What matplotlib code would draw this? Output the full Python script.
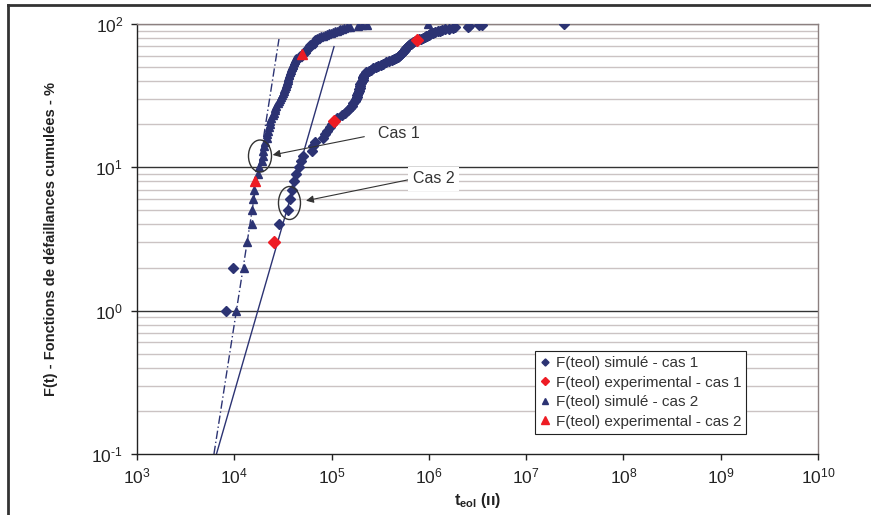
import matplotlib
matplotlib.use("Agg")
import matplotlib.pyplot as plt
from matplotlib.lines import Line2D
from matplotlib.patches import Ellipse
from matplotlib.ticker import LogLocator, NullFormatter, FuncFormatter
import math

plt.rcParams['font.family'] = ['Liberation Sans', 'DejaVu Sans']
plt.rcParams['mathtext.fontset'] = 'custom'
plt.rcParams['mathtext.rm'] = 'Liberation Sans'
plt.rcParams['mathtext.it'] = 'Liberation Sans:italic'
plt.rcParams['mathtext.bf'] = 'Liberation Sans:bold'
plt.rcParams['axes.unicode_minus'] = False

# ---- data ----------------------------------------------------------------
# cumulative failure levels (%)
levels = [1, 2, 3, 4, 5, 6, 7, 8, 9, 10,
          11, 12, 13, 14, 15, 16, 17, 18, 19, 20,
          21, 22, 23, 24, 25, 26, 27, 28, 29, 30,
          31, 32, 33, 34, 35, 36, 37, 38, 39, 40,
          41, 42, 43, 44, 45, 46, 47, 48, 49, 50,
          51, 52, 53, 54, 55, 56, 57, 58, 59, 60,
          61, 62, 63, 64, 65, 66, 67, 68, 69, 70,
          71, 72, 73, 74, 75, 76, 77, 78, 79, 80,
          81, 82, 83, 84, 85, 86, 87, 88, 89, 90,
          91, 92, 93, 94, 95, 96, 97, 98, 99, 100]

# simulated end-of-life times, case 1
teol_sim_cas1 = [8200, 9800, 25600, 29000, 35900, 37400, 38900, 41100, 42600, 46000,
                 48500, 50500, 62500, 64900, 67500, 82000, 85000, 89000, 96000, 101000,
                 107000, 115000, 127000, 138000, 148000, 155000, 161000, 167000, 174000, 178000,
                 181000, 184000, 187000, 190000, 192000, 194000, 196000, 198000, 202000, 205000,
                 208000, 210000, 212000, 217000, 222000, 228000, 240000, 255000, 268000, 285000,
                 302000, 320000, 340000, 365000, 390000, 415000, 440000, 460000, 480000, 498000,
                 510000, 520000, 530000, 542000, 553000, 563000, 572000, 582000, 592000, 608000,
                 625000, 640000, 657000, 675000, 692000, 720000, 750000, 790000, 830000, 870000,
                 905000, 935000, 965000, 995000, 1020000, 1050000, 1100000, 1160000, 1230000, 1300000,
                 1370000, 1480000, 1600000, 1750000, 1850000, 2500000, 2600000, 3300000, 3500000, 24600000]

# simulated end-of-life times, case 2
teol_sim_cas2 = [10400, 12600, 13500, 15100, 15200, 15500, 15800, 16300, 17400, 18100,
                 19100, 19500, 19700, 20400, 20900, 21500, 21800, 22200, 22700, 23100,
                 23300, 24100, 25000, 25600, 26000, 26200, 27100, 28100, 28800, 29500,
                 30200, 30900, 31700, 32400, 32800, 33200, 33800, 34200, 34800, 35000,
                 35400, 35600, 35900, 36300, 36600, 37100, 37600, 38300, 38600, 38900,
                 39400, 39800, 40300, 40800, 41200, 41700, 42000, 43000, 44700, 46300,
                 47900, 49300, 50200, 51400, 52600, 53300, 54200, 54800, 55500, 57200,
                 58600, 60000, 61400, 62900, 64400, 65100, 66700, 67500, 69200, 70800,
                 74200, 77800, 81600, 85500, 89700, 94000, 98600, 103000, 108000, 114000,
                 119000, 123000, 127000, 134000, 144000, 154000, 187000, 205000, 230000, 979000]

# experimental points
teol_exp_cas1 = [25600, 107000, 750000]
F_exp_cas1 = [3, 21, 77]
teol_exp_cas2 = [16300, 49300]
F_exp_cas2 = [8, 62]

# fitted laws (end points)
fit_cas1_t = [6560, 106000]
fit_cas1_F = [0.1, 69.5]
fit_cas2_t = [6180, 28800]
fit_cas2_F = [0.1, 78.6]

NAVY = '#2c3373'
RED = '#ee1c24'


def pow10_label(v, pos):
    e = int(round(math.log10(v)))
    if e < 0:
        return r'$10^{\text{-%d}}$' % (-e)
    return r'$10^{%d}$' % e


# ---- figure ----------------------------------------------------------------
fig = plt.figure(figsize=(8.71, 5.15), dpi=100)
ax = fig.add_axes([137 / 871, 1 - 454 / 515, 681 / 871, 430 / 515])

ax.set_xscale('log')
ax.set_yscale('log')
ax.set_xlim(1e3, 1e10)
ax.set_ylim(0.1, 100)

# horizontal grid
ax.yaxis.set_minor_locator(LogLocator(base=10, subs=[2, 3, 4, 5, 6, 7, 8, 9]))
ax.yaxis.set_minor_formatter(NullFormatter())
ax.grid(True, which='minor', axis='y', color='#cbc3c3', lw=1.0, zorder=0)
for v in (1, 10):
    ax.axhline(v, color='#333333', lw=1.0, zorder=0.5)
ax.axhline(100, color='#8c8080', lw=1.0, zorder=0.5)

ax.xaxis.set_major_locator(LogLocator(base=10, numticks=20))
ax.xaxis.set_minor_locator(LogLocator(base=10, subs=[], numticks=20))
ax.xaxis.set_major_formatter(FuncFormatter(pow10_label))
ax.yaxis.set_major_formatter(FuncFormatter(pow10_label))
ax.tick_params(axis='both', which='major', direction='out', length=4, width=1,
               labelsize=12.5, color='#222222', labelcolor='#222222')
ax.tick_params(axis='y', which='minor', length=0)
ax.tick_params(axis='x', which='major', pad=5)
ax.tick_params(axis='y', which='major', pad=6)

for s in ('left', 'bottom'):
    ax.spines[s].set_color('#222222')
    ax.spines[s].set_linewidth(1.0)
for s in ('right', 'top'):
    ax.spines[s].set_color('#8c8080')
    ax.spines[s].set_linewidth(1.0)

# fit lines
ax.plot(fit_cas1_t, fit_cas1_F, color=NAVY, lw=1.0, zorder=2)
ax.plot(fit_cas2_t, fit_cas2_F, color=NAVY, lw=1.0, ls=(0, (6, 2, 1, 2)), zorder=2)

# data
ax.plot(teol_sim_cas1, levels, ls='none', marker='D', ms=4.8, color=NAVY,
        mec=NAVY, label='F(teol) simulé - cas 1', zorder=3)
ax.plot(teol_exp_cas1, F_exp_cas1, ls='none', marker='D', ms=5.8, color=RED,
        mec=RED, label='F(teol) experimental - cas 1', zorder=4)
ax.plot(teol_sim_cas2, levels, ls='none', marker='^', ms=5.5, color=NAVY,
        mec=NAVY, label='F(teol) simulé - cas 2', zorder=3)
ax.plot(teol_exp_cas2, F_exp_cas2, ls='none', marker='^', ms=7.5, color=RED,
        mec=RED, label='F(teol) experimental - cas 2', zorder=4)

# highlighted regions
ax.add_patch(Ellipse((0.1806, 0.693), 0.0338, 0.0744, transform=ax.transAxes,
                     fill=False, ec='#333333', lw=1.0, zorder=5))
ax.add_patch(Ellipse((0.2239, 0.5837), 0.0323, 0.0767, transform=ax.transAxes,
                     fill=False, ec='#333333', lw=1.0, zorder=5))

arrow = dict(arrowstyle='-|>', lw=0.8, color='#333333', mutation_scale=11,
             shrinkA=0, shrinkB=0)
ax.annotate('Cas 1', xy=(24800, 12.2), xytext=(300000, 17.1),
            fontsize=11.5, color='#333333', ha='left', va='center',
            arrowprops=dict(arrow, relpos=(0, 0.5), shrinkA=8), zorder=6)
ax.annotate('Cas 2', xy=(54600, 5.85), xytext=(680000, 8.3),
            fontsize=11.5, color='#333333', ha='left', va='center',
            bbox=dict(boxstyle='square,pad=0.3', fc='white', ec='none'),
            arrowprops=dict(arrow, relpos=(0, 0.5)), zorder=6)

# labels
ax.set_ylabel('F(t) - Fonctions de défaillances cumulées - %', fontsize=10.5,
              fontweight='bold', color='#222222', labelpad=24)
ax.set_xlabel(r'$\mathbf{t}_{\mathbf{eol}}$' + ' (ıı)', fontsize=11.5,
              fontweight='bold', color='#222222', labelpad=3)

leg = ax.legend(loc='upper left', bbox_to_anchor=((535 - 137) / 681, (454 - 351) / 430),
                fontsize=11, frameon=True, fancybox=False, framealpha=1,
                edgecolor='#222222', handlelength=0.6, handletextpad=0.4,
                borderpad=0.35, labelspacing=0.36, borderaxespad=0, markerscale=0.75)
leg.get_frame().set_linewidth(0.8)
for t in leg.get_texts():
    t.set_color('#333333')

# outer frame
fig.add_artist(Line2D([8 / 871, 1], [1 - 5 / 515, 1 - 5 / 515], color='#333333', lw=2,
                      transform=fig.transFigure))
fig.add_artist(Line2D([8 / 871, 8 / 871], [0, 1 - 5 / 515], color='#333333', lw=2,
                      transform=fig.transFigure))

fig.savefig('out.png', dpi=100)
